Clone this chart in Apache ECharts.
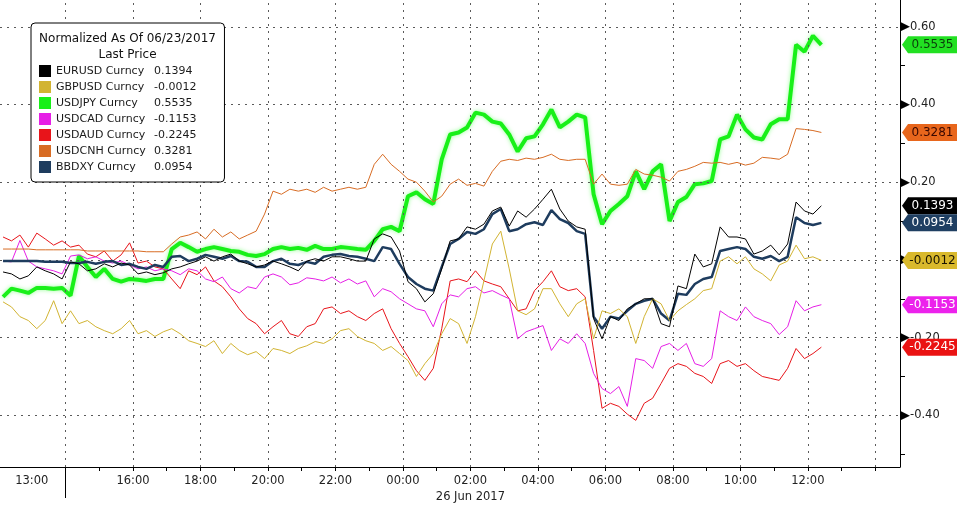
<!DOCTYPE html>
<html><head><meta charset="utf-8">
<script src="https://cdn.jsdelivr.net/npm/echarts@6/dist/echarts.min.js"></script>
<style>html,body{margin:0;padding:0;background:#fff}#c{width:959px;height:505px}</style>
</head><body><div id="c"></div>
<script>
// ---- data ----
const seriesNames = ['EURUSD Curncy','GBPUSD Curncy','USDJPY Curncy','USDCAD Curncy','USDAUD Curncy','USDCNH Curncy','BBDXY Curncy'];
const legendLast = ['0.1394','-0.0012','0.5535','-0.1153','-0.2245','0.3281','0.0954'];
// time axis: hours relative to 26 Jun 2017 00:00 (weekend gap collapsed at -10)
const T0 = -11.85, STEP = 0.25;
const xLabelHours = [-11,-8,-6,-4,-2,0,2,4,6,8,10,12];
const xLabelText  = ['13:00','16:00','18:00','20:00','22:00','00:00','02:00','04:00','06:00','08:00','10:00','12:00'];
const dateLabel = '26 Jun 2017';
const weekendBreak = -10;
const xTickHours = [-9,-8,-7,-6,-5,-4,-3,-2,-1,0,1,2,3,4,5,6,7,8,9,10,11,12,13,14];
const xGridHours = [-10,-8,-6,-4,-2,0,2,4,6,8,10,12,14];
const yLabelValues = [0.6,0.4,0.2,0,-0.2,-0.4];
const yMinorTicks = [0.5,0.3,0.1,-0.1,-0.3,-0.5];

const eurusd = [-0.031,-0.036,-0.049,-0.041,-0.018,-0.028,-0.036,-0.049,-0.005,-0.010,
-0.028,-0.023,-0.010,-0.018,-0.008,-0.013,-0.036,-0.031,-0.038,-0.033,
-0.023,-0.018,-0.010,-0.003,0.008,-0.003,0.008,0.015,-0.003,-0.010,
-0.018,-0.013,-0.003,-0.010,-0.018,-0.028,-0.003,0.003,-0.003,0.008,
0.008,0.003,-0.003,-0.003,0.054,0.067,0.059,0.023,-0.056,-0.074,
-0.108,-0.087,-0.023,0.049,0.054,0.085,0.079,0.092,0.126,0.136,
0.087,0.126,0.110,0.131,0.156,0.182,0.131,0.100,0.085,0.079,
-0.151,-0.203,-0.146,-0.156,-0.126,-0.113,-0.100,-0.100,-0.164,-0.172,
-0.067,-0.074,0.015,-0.018,-0.010,0.085,0.059,0.059,0.054,0.015,
0.023,0.038,0.013,0.041,0.149,0.126,0.118,0.1393];
const gbpusd = [-0.108,-0.121,-0.146,-0.156,-0.177,-0.156,-0.105,-0.164,-0.131,-0.164,
-0.156,-0.172,-0.182,-0.190,-0.177,-0.156,-0.190,-0.182,-0.197,-0.185,
-0.177,-0.190,-0.208,-0.215,-0.223,-0.208,-0.241,-0.215,-0.233,-0.244,
-0.236,-0.254,-0.228,-0.233,-0.241,-0.228,-0.221,-0.210,-0.215,-0.203,
-0.182,-0.177,-0.197,-0.208,-0.215,-0.233,-0.223,-0.241,-0.259,-0.300,
-0.267,-0.241,-0.190,-0.151,-0.164,-0.215,-0.146,-0.054,0.041,0.074,
-0.023,-0.131,-0.141,-0.126,-0.074,-0.074,-0.113,-0.146,-0.113,-0.100,
-0.203,-0.131,-0.138,-0.126,-0.146,-0.215,-0.146,-0.100,-0.113,-0.156,
-0.131,-0.115,-0.100,-0.079,-0.074,-0.003,0.008,-0.010,0.008,-0.023,
-0.036,-0.054,-0.013,-0.003,0.038,0.003,0.008,-0.0012];
const usdjpy = [-0.095,-0.074,-0.079,-0.085,-0.072,-0.072,-0.074,-0.072,-0.092,0.010,
-0.018,-0.044,-0.023,-0.049,-0.056,-0.049,-0.051,-0.054,-0.049,-0.049,
0.028,0.044,0.033,0.021,0.028,0.033,0.028,0.023,0.021,0.013,
0.010,0.015,0.028,0.033,0.028,0.031,0.026,0.036,0.028,0.028,
0.033,0.031,0.028,0.026,0.049,0.079,0.085,0.074,0.164,0.174,
0.156,0.144,0.259,0.323,0.328,0.341,0.379,0.374,0.356,0.351,
0.323,0.279,0.313,0.318,0.349,0.387,0.341,0.356,0.374,0.367,
0.169,0.092,0.126,0.144,0.164,0.228,0.182,0.228,0.246,0.100,
0.149,0.162,0.195,0.197,0.203,0.310,0.318,0.374,0.336,0.315,
0.310,0.349,0.362,0.362,0.554,0.536,0.577,0.5535];
const usdcad = [-0.003,-0.005,0.050,-0.003,-0.018,-0.023,-0.028,-0.036,0.010,0.013,
0.003,0.008,-0.003,-0.008,-0.003,-0.013,-0.023,-0.018,-0.028,-0.023,
-0.028,-0.038,-0.023,-0.028,-0.049,-0.056,-0.044,-0.074,-0.085,-0.069,
-0.074,-0.044,-0.036,-0.044,-0.064,-0.059,-0.046,-0.049,-0.054,-0.044,
-0.059,-0.049,-0.062,-0.054,-0.095,-0.074,-0.082,-0.100,-0.113,-0.126,
-0.131,-0.172,-0.113,-0.090,-0.095,-0.074,-0.069,-0.085,-0.079,-0.090,
-0.100,-0.203,-0.185,-0.177,-0.169,-0.233,-0.203,-0.215,-0.190,-0.215,
-0.292,-0.331,-0.344,-0.326,-0.377,-0.254,-0.259,-0.279,-0.223,-0.215,
-0.233,-0.215,-0.267,-0.274,-0.254,-0.131,-0.146,-0.156,-0.121,-0.146,
-0.156,-0.164,-0.192,-0.172,-0.105,-0.131,-0.121,-0.1153];
const usdaud = [0.059,0.049,0.064,0.033,0.069,0.054,0.038,0.049,0.033,0.038,
0.015,0.008,0.023,-0.003,0.013,0.044,-0.008,-0.003,-0.018,-0.023,
-0.049,-0.074,-0.028,-0.038,-0.018,-0.054,-0.069,-0.095,-0.126,-0.151,
-0.164,-0.190,-0.172,-0.156,-0.190,-0.197,-0.172,-0.164,-0.126,-0.121,
-0.138,-0.131,-0.146,-0.156,-0.138,-0.126,-0.177,-0.215,-0.249,-0.285,
-0.310,-0.279,-0.177,-0.054,-0.049,-0.056,-0.028,-0.054,-0.062,-0.069,
-0.100,-0.131,-0.126,-0.079,-0.056,-0.028,-0.069,-0.079,-0.074,-0.095,
-0.233,-0.382,-0.369,-0.377,-0.397,-0.413,-0.369,-0.356,-0.318,-0.279,
-0.267,-0.274,-0.292,-0.300,-0.318,-0.267,-0.259,-0.274,-0.267,-0.285,
-0.300,-0.305,-0.310,-0.279,-0.228,-0.254,-0.241,-0.2245];
const usdcnh = [0.028,0.028,0.028,0.028,0.026,0.026,0.026,0.026,0.026,0.026,
0.023,0.023,0.023,0.023,0.023,0.023,0.023,0.021,0.021,0.021,
0.041,0.059,0.064,0.072,0.054,0.079,0.059,0.072,0.054,0.064,
0.074,0.118,0.177,0.169,0.182,0.177,0.182,0.174,0.187,0.177,
0.182,0.187,0.182,0.187,0.246,0.272,0.246,0.228,0.208,0.200,
0.177,0.149,0.164,0.195,0.208,0.192,0.197,0.190,0.228,0.254,
0.259,0.256,0.262,0.259,0.264,0.272,0.259,0.256,0.259,0.259,
0.195,0.221,0.195,0.192,0.195,0.233,0.221,0.218,0.213,0.203,
0.228,0.233,0.241,0.251,0.249,0.251,0.246,0.251,0.244,0.249,
0.264,0.262,0.259,0.272,0.338,0.336,0.333,0.3281];
const bbdxy = [-0.003,-0.003,-0.003,-0.003,-0.003,-0.005,-0.005,-0.005,-0.008,-0.008,
-0.005,-0.010,-0.005,-0.003,-0.013,-0.010,-0.018,-0.023,-0.013,-0.018,
0.008,0.010,-0.003,0.003,0.013,0.008,0.003,0.010,-0.003,-0.005,
-0.018,-0.018,-0.003,0.003,-0.010,-0.013,-0.005,-0.010,0.008,0.013,
0.015,0.010,0.008,0.003,-0.003,0.033,0.028,-0.010,-0.044,-0.062,
-0.074,-0.079,-0.018,0.041,0.054,0.072,0.067,0.079,0.118,0.131,
0.074,0.079,0.092,0.097,0.090,0.128,0.105,0.095,0.074,0.067,
-0.146,-0.177,-0.146,-0.151,-0.131,-0.113,-0.105,-0.100,-0.138,-0.156,
-0.087,-0.090,-0.062,-0.049,-0.044,0.023,0.028,0.033,0.028,0.008,
0.003,0.010,-0.003,0.008,0.110,0.095,0.090,0.0954];

// ---- styling ----
const FONT = '"DejaVu Sans", Tahoma, sans-serif';
const X_MIN = -11.94, X_MAX = 14.73, Y_MIN = -0.533, Y_MAX = 0.669;
const TAG = 'path://M0,8.5 L6,0 L55,0 L55,17 L6,17 Z';

const styles = [
  {data: eurusd, color:'#000000', width:1,   z:8, tagBg:'#000000', tagText:'#ffffff'},
  {data: gbpusd, color:'#d2b432', width:1,   z:7, tagBg:'#d9b92c', tagText:'#1a1400'},
  {data: usdjpy, color:'#18f018', width:4,   z:3, tagBg:'#22e022', tagText:'#0b3d0b', glow:true},
  {data: usdcad, color:'#e61fe6', width:1,   z:5, tagBg:'#ec22ec', tagText:'#ffffff'},
  {data: usdaud, color:'#e8141a', width:1,   z:4, tagBg:'#ea1313', tagText:'#ffffff'},
  {data: usdcnh, color:'#d86c24', width:1,   z:6, tagBg:'#e8661c', tagText:'#3a0800'},
  {data: bbdxy,  color:'#1e3c5e', width:2.5, z:5, tagBg:'#1f3f62', tagText:'#ffffff'}
];

const series = styles.map((s, k) => {
  const pts = s.data.map((v, i) => [T0 + i * STEP, v]);
  const last = s.data[s.data.length - 1];
  const ls = {color: s.color, width: s.width};
  if (s.glow) { ls.shadowBlur = 4; ls.shadowColor = 'rgba(140,255,140,0.9)'; }
  return {
    name: seriesNames[k], type: 'line', data: pts, showSymbol: false, symbol: 'none',
    lineStyle: ls, itemStyle: {color: s.color}, z: s.z, silent: true, animation: false,
    markPoint: {
      silent: true, animation: false,
      symbol: TAG, symbolSize: [55, 17], symbolOffset: [29.5, 0],
      itemStyle: {color: s.tagBg, borderWidth: 0, shadowBlur: 0},
      label: {show: true, position: 'inside', offset: [3, 0], color: s.tagText,
              fontSize: 12, fontFamily: FONT, formatter: () => last.toFixed(4)},
      data: [{coord: [X_MAX, last], value: last}]
    }
  };
});

// dotted grid drawn as mark lines through the axes' scales
series.push({
  name: 'grid', type: 'line', data: [], z: 1, silent: true, animation: false,
  markLine: {
    silent: true, animation: false, symbol: ['none', 'none'], label: {show: false},
    lineStyle: {type: [2, 5], color: '#5a5a5a', width: 1},
    data: xGridHours.map(h => ({xAxis: h})).concat(yLabelValues.map(v => ({yAxis: v})))
  }
});

const option = {
  animation: false,
  backgroundColor: '#ffffff',
  grid: {left: 0, right: 59, top: 0, bottom: 36, containLabel: false},
  title: {
    left: 31, top: 31, padding: 0, z: 10,
    text: '{a|Normalized As Of 06/23/2017}\n{a|Last Price}',
    textStyle: {fontSize: 12, fontFamily: FONT, color: '#111', fontWeight: 'normal', lineHeight: 16,
      rich: {a: {width: 193, align: 'center', fontSize: 12, fontFamily: FONT, color: '#111', lineHeight: 16}}}
  },
  legend: {
    orient: 'vertical', left: 31, top: 23, data: seriesNames, icon: 'rect',
    itemWidth: 12, itemHeight: 12, itemGap: 4, padding: [42, 28, 9, 8],
    backgroundColor: '#ffffff', borderColor: '#000000', borderWidth: 1, borderRadius: 4,
    selectedMode: false, z: 9,
    itemStyle: {borderWidth: 0, shadowBlur: 0},
    formatter: name => '{n|' + name + '}{v|' + legendLast[seriesNames.indexOf(name)] + '}',
    textStyle: {fontSize: 11, fontFamily: FONT, color: '#1a1a1a',
      rich: {n: {width: 98, fontSize: 11, fontFamily: FONT, color: '#1a1a1a'},
             v: {width: 58, fontSize: 11, fontFamily: FONT, color: '#1a1a1a'}}}
  },
  xAxis: {
    type: 'value', min: X_MIN, max: X_MAX,
    axisLine: {show: true, onZero: false, lineStyle: {color: '#000', width: 1}},
    axisTick: {show: true, customValues: xTickHours, length: 4, lineStyle: {color: '#000'}},
    axisLabel: {show: true, customValues: xLabelHours, margin: 6, color: '#222',
      fontSize: 11.5, fontFamily: FONT, lineHeight: 16,
      formatter: v => {
        const k = xLabelHours.indexOf(Math.round(v));
        const t = k >= 0 ? xLabelText[k] : '';
        return Math.round(v) === 2 ? t + '\n' + dateLabel : t;
      }},
    splitLine: {show: false}
  },
  yAxis: {
    type: 'value', position: 'right', min: Y_MIN, max: Y_MAX,
    axisLine: {show: true, onZero: false, lineStyle: {color: '#000', width: 1}},
    axisTick: {show: true, customValues: yMinorTicks, length: 5, inside: false, lineStyle: {color: '#000'}},
    axisLabel: {show: true, customValues: yLabelValues, margin: 0, color: '#222',
      fontSize: 11.5, fontFamily: FONT,
      formatter: v => '{t|\u25B6}' + v.toFixed(2),
      rich: {t: {fontSize: 13, color: '#000', padding: [0, 0, 0, 0]}}},
    splitLine: {show: false}
  },
  series: series
};

const chart = echarts.init(document.getElementById('c'), null, {renderer: 'canvas'});
chart.setOption(option);
// long tick marking the weekend break, positioned via the axis scale
const p = chart.convertToPixel({gridIndex: 0}, [weekendBreak, Y_MIN]);
const px = Math.round(p[0]) + 0.5;
chart.setOption({graphic: [{type: 'line', silent: true, z: 20,
  shape: {x1: px, y1: p[1], x2: px, y2: p[1] + 31}, style: {stroke: '#000', lineWidth: 1}}]});
</script>
</body></html>
